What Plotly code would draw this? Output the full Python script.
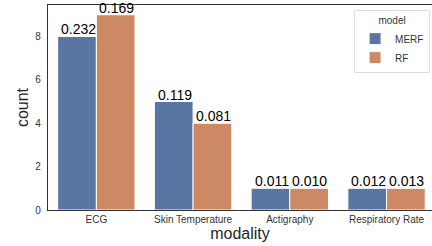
import plotly.graph_objects as go

categories = ["ECG", "Skin Temperature", "Actigraphy", "Respiratory Rate"]
merf_counts = [8, 5, 1, 1]
rf_counts = [9, 4, 1, 1]
merf_labels = ["0.232", "0.119", "0.011", "0.012"]
rf_labels = ["0.169", "0.081", "0.010", "0.013"]
y_ticks = [0, 2, 4, 6, 8]

fig = go.Figure()
fig.add_trace(go.Bar(
    x=categories, y=merf_counts, name="MERF",
    marker=dict(color="#5975a4", line=dict(color="white", width=1)),
))
fig.add_trace(go.Bar(
    x=categories, y=rf_counts, name="RF",
    marker=dict(color="#cc8963", line=dict(color="white", width=1)),
))

for cat, v, lab in zip(categories, merf_counts, merf_labels):
    fig.add_annotation(x=cat, y=v, text=lab, showarrow=False, xshift=-18,
                       yanchor="bottom", yshift=-3,
                       font=dict(size=14, color="black", family="Liberation Sans"))
for cat, v, lab in zip(categories, rf_counts, rf_labels):
    fig.add_annotation(x=cat, y=v, text=lab, showarrow=False, xshift=20,
                       yanchor="bottom", yshift=-3,
                       font=dict(size=14, color="black", family="Liberation Sans"))

fig.update_layout(
    width=432, height=246,
    margin=dict(l=48, r=0, t=5, b=36, autoexpand=False),
    paper_bgcolor="white", plot_bgcolor="white",
    barmode="group", bargap=0.2, bargroupgap=0,
    font=dict(family="Liberation Sans", color="#333333", size=10),
    showlegend=True,
    legend=dict(
        x=0.995, y=0.975, xanchor="right", yanchor="top",
        bgcolor="white", bordercolor="#dddddd", borderwidth=1,
        title=dict(text="model", side="top center", font=dict(size=10, color="#333333")),
        font=dict(size=10), itemwidth=30, tracegroupgap=0,
    ),
    xaxis=dict(
        range=[-0.5, 3.47], showline=True, mirror=True, linecolor="#333333",
        linewidth=1.25, ticks="", showgrid=False, zeroline=False, automargin=False,
        title=dict(text="modality", font=dict(size=16, color="#262626"), standoff=2),
        tickfont=dict(size=10, color="#333333"),
    ),
    yaxis=dict(
        range=[0, 9.45], showline=True, linecolor="#333333", linewidth=1.25,
        tickvals=y_ticks, ticks="outside", ticklen=4, tickcolor="white",
        showgrid=False, zeroline=False, automargin=False,
        title=dict(text="count", font=dict(size=16, color="#262626"), standoff=2),
        tickfont=dict(size=10, color="#333333"),
    ),
)

fig.write_html("out.html", config={"displayModeBar": False},
               post_script="document.body.style.margin='0';document.body.style.overflow='hidden';")
